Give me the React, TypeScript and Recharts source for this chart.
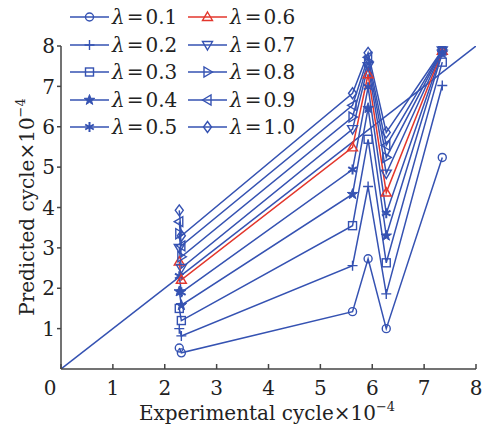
import React from 'react';
import { ComposedChart, Line, XAxis, YAxis, Legend, Label } from 'recharts';

const BLUE = '#3552b2';
const RED = '#e3362c';
const FONT = 'DejaVu Serif';

const expX = [2.28, 2.32, 5.62, 5.92, 6.27, 7.35];
const lambdas = ['0.1', '0.2', '0.3', '0.4', '0.5', '0.6', '0.7', '0.8', '0.9', '1.0'];
const shapes = ['circle', 'plus', 'square', 'star', 'asterisk', 'up', 'down', 'right', 'left', 'diamond'];

const pred01 = [0.52, 0.4, 1.42, 2.73, 1.0, 5.24];
const pred02 = [1.0, 0.82, 2.56, 4.52, 1.86, 7.02];
const pred03 = [1.5, 1.2, 3.55, 5.69, 2.63, 7.6];
const pred04 = [1.92, 1.58, 4.33, 6.46, 3.3, 7.82];
const pred05 = [2.3, 1.9, 4.94, 6.98, 3.86, 7.86];
const pred06 = [2.66, 2.21, 5.49, 7.3, 4.37, 7.88];
const pred07 = [3.0, 2.5, 5.94, 7.5, 4.84, 7.89];
const pred08 = [3.35, 2.78, 6.24, 7.62, 5.24, 7.9];
const pred09 = [3.65, 3.05, 6.53, 7.72, 5.54, 7.9];
const pred10 = [3.93, 3.3, 6.83, 7.83, 5.86, 7.9];

const predicted = [pred01, pred02, pred03, pred04, pred05, pred06, pred07, pred08, pred09, pred10];
const diagonal = [{ x: 0, y: 0 }, { x: 8, y: 8 }];
const ticks = [0, 1, 2, 3, 4, 5, 6, 7, 8];

const series = lambdas.map((l, i) => ({
  name: l,
  shape: shapes[i],
  color: l === '0.6' ? RED : BLUE,
  data: expX.map((x, j) => ({ x, y: predicted[i][j] })),
}));

const textStyle = { fontFamily: FONT, fontSize: 20, fill: '#222' };

function Marker({ shape, cx, cy, color }: { shape: string; cx: number; cy: number; color: string }) {
  const s = { stroke: color, strokeWidth: 1.4, fill: 'none' };
  switch (shape) {
    case 'circle':
      return <circle cx={cx} cy={cy} r={4} {...s} />;
    case 'plus':
      return <path d={`M${cx - 5},${cy}H${cx + 5}M${cx},${cy - 5}V${cy + 5}`} {...s} />;
    case 'square':
      return <rect x={cx - 4} y={cy - 4} width={8} height={8} {...s} />;
    case 'star': {
      const pts: string[] = [];
      for (let k = 0; k < 10; k++) {
        const r = k % 2 === 0 ? 5.5 : 2.2;
        const a = -Math.PI / 2 + (k * Math.PI) / 5;
        pts.push(`${cx + r * Math.cos(a)},${cy + r * Math.sin(a)}`);
      }
      return <polygon points={pts.join(' ')} stroke={color} strokeWidth={1} fill={color} />;
    }
    case 'asterisk':
      return (
        <path
          d={`M${cx},${cy - 5}V${cy + 5}M${cx - 4.3},${cy - 2.5}L${cx + 4.3},${cy + 2.5}M${cx - 4.3},${cy + 2.5}L${cx + 4.3},${cy - 2.5}`}
          stroke={color}
          strokeWidth={2}
        />
      );
    case 'up':
      return <polygon points={`${cx},${cy - 5} ${cx + 5},${cy + 3.5} ${cx - 5},${cy + 3.5}`} {...s} />;
    case 'down':
      return <polygon points={`${cx},${cy + 5} ${cx + 5},${cy - 3.5} ${cx - 5},${cy - 3.5}`} {...s} />;
    case 'right':
      return <polygon points={`${cx + 5},${cy} ${cx - 3.5},${cy - 5} ${cx - 3.5},${cy + 5}`} {...s} />;
    case 'left':
      return <polygon points={`${cx - 5},${cy} ${cx + 3.5},${cy - 5} ${cx + 3.5},${cy + 5}`} {...s} />;
    default:
      return <polygon points={`${cx},${cy - 5.5} ${cx + 4},${cy} ${cx},${cy + 5.5} ${cx - 4},${cy}`} {...s} />;
  }
}

function XTick(props: any) {
  const { x, y, payload } = props;
  return (
    <text x={payload.value === 0 ? x - 11 : x} y={y} dy="0.71em" textAnchor="middle" style={textStyle}>
      {payload.value}
    </text>
  );
}

function YTick(props: any) {
  const { x, y, payload } = props;
  return (
    <text x={x} y={y} dy="0.36em" textAnchor="end" style={textStyle}>
      {payload.value}
    </text>
  );
}

function LegendBox() {
  const rows = [17, 45, 72, 100, 127];
  return (
    <svg width={484} height={150}>
      {series.map((s, i) => {
        const col = i < 5 ? 0 : 1;
        const y = rows[i % 5];
        const x0 = col === 0 ? 70 : 188;
        return (
          <g key={s.name}>
            <line x1={x0} x2={x0 + 39} y1={y} y2={y} stroke={s.color} strokeWidth={1.5} />
            <Marker shape={s.shape} cx={x0 + 19.5} cy={y} color={s.color} />
            <text x={x0 + 42} y={y + 7} style={textStyle}>
              <tspan fontStyle="italic">λ</tspan>
              <tspan dx={2}>=</tspan>
              <tspan dx={2}>{s.name}</tspan>
            </text>
          </g>
        );
      })}
    </svg>
  );
}

export default function App() {
  return (
    <div style={{ position: 'absolute', left: 0, top: 0, width: 484, height: 433, background: '#fff' }}>
      <ComposedChart width={484} height={433} margin={{ top: 46, right: 8, left: 0, bottom: 0 }}>
        <XAxis
          type="number"
          dataKey="x"
          domain={[0, 8]}
          ticks={ticks}
          allowDataOverflow
          height={64}
          stroke="#444"
          strokeWidth={1.5}
          tickSize={-5}
          tickMargin={17}
          tick={<XTick />}
        >
          <Label
            content={() => (
              <text x={267} y={420} textAnchor="middle" style={textStyle}>
                <tspan>Experimental cycle×10</tspan>
                <tspan dy={-9} fontSize={13}>−4</tspan>
              </text>
            )}
          />
        </XAxis>
        <YAxis
          type="number"
          domain={[0, 8]}
          ticks={[1, 2, 3, 4, 5, 6, 7, 8]}
          allowDataOverflow
          width={61}
          stroke="#444"
          strokeWidth={1.5}
          tickSize={4}
          tickMargin={2}
          tick={<YTick />}
        >
          <Label
            content={() => (
              <text x={34} y={207} transform="rotate(-90 34 207)" textAnchor="middle" style={textStyle}>
                <tspan>Predicted cycle×10</tspan>
                <tspan dy={-9} fontSize={13}>−4</tspan>
              </text>
            )}
          />
        </YAxis>
        <Legend
          layout="vertical"
          align="center"
          verticalAlign="middle"
          wrapperStyle={{ position: 'absolute', top: 0, left: 0, width: 484, height: 150 }}
          content={() => <LegendBox />}
        />
        <Line
          data={diagonal}
          dataKey="y"
          stroke={BLUE}
          strokeWidth={1.5}
          dot={false}
          legendType="none"
          isAnimationActive={false}
        />
        {series.map((s) => (
          <Line
            key={s.name}
            data={s.data}
            dataKey="y"
            name={`λ=${s.name}`}
            stroke={s.color}
            strokeWidth={1.5}
            isAnimationActive={false}
            dot={(p: any) => <Marker key={`${s.name}-${p.index}`} shape={s.shape} cx={p.cx} cy={p.cy} color={s.color} />}
            activeDot={false}
          />
        ))}
      </ComposedChart>
    </div>
  );
}
